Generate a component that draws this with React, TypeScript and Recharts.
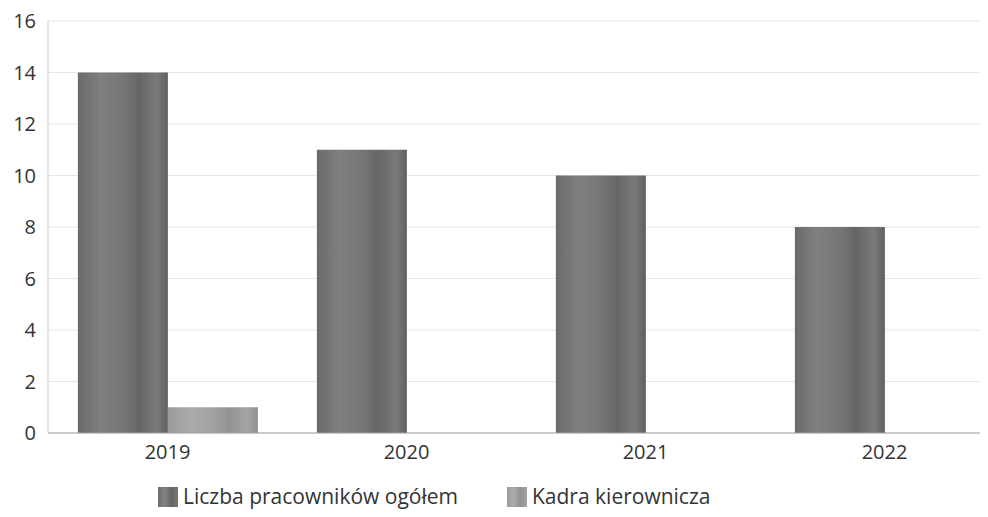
import { BarChart, Bar, XAxis, YAxis, CartesianGrid, Legend } from 'recharts';

const years = ['2019', '2020', '2021', '2022'];
const totalStaff = [14, 11, 10, 8];
const managers = [1, 0, 0, 0];
const yTicks = [0, 2, 4, 6, 8, 10, 12, 14, 16];
const seriesNames = ['Liczba pracowników ogółem', 'Kadra kierownicza'];

const data = years.map((year, i) => ({
  year,
  total: totalStaff[i],
  managers: managers[i],
}));

const FONT = '"Open Sans", "Noto Sans", sans-serif';
const TEXT = '#333333';

function LegendBox() {
  const items = [
    { name: seriesNames[0], bg: 'linear-gradient(90deg,#6c6c6c,#838383,#646464,#767676)' },
    { name: seriesNames[1], bg: 'linear-gradient(90deg,#9c9c9c,#acacac,#929292,#a2a2a2)' },
  ];
  return (
    <div
      style={{
        display: 'flex',
        paddingTop: 20,
        paddingLeft: 150,
        fontFamily: FONT,
        fontSize: 21,
        color: TEXT,
        lineHeight: '27px',
      }}
    >
      {items.map((it, i) => (
        <div key={it.name} style={{ display: 'flex', alignItems: 'center', marginRight: i === 0 ? 49 : 0 }}>
          <span style={{ display: 'inline-block', width: 20, height: 20, background: it.bg, marginRight: 5 }} />
          <span>{it.name}</span>
        </div>
      ))}
    </div>
  );
}

export default function App() {
  return (
    <div style={{ width: 980, height: 509, overflow: 'hidden' }}>
      <BarChart
        width={996}
        height={509}
        data={data}
        margin={{ top: 13, right: 0, bottom: 14, left: 0 }}
        barCategoryGap="12.5%"
        barGap={0}
      >
        <defs>
          <linearGradient id="gradDark" x1="0" y1="0" x2="1" y2="0">
            <stop offset="0" stopColor="#6a6a6a" />
            <stop offset="0.25" stopColor="#808080" />
            <stop offset="0.5" stopColor="#767676" />
            <stop offset="0.68" stopColor="#666666" />
            <stop offset="0.88" stopColor="#7a7a7a" />
            <stop offset="1" stopColor="#606060" />
          </linearGradient>
          <linearGradient id="gradLight" x1="0" y1="0" x2="1" y2="0">
            <stop offset="0" stopColor="#9a9a9a" />
            <stop offset="0.25" stopColor="#ababab" />
            <stop offset="0.5" stopColor="#a2a2a2" />
            <stop offset="0.68" stopColor="#939393" />
            <stop offset="0.88" stopColor="#a4a4a4" />
            <stop offset="1" stopColor="#8e8e8e" />
          </linearGradient>
        </defs>
        <CartesianGrid stroke="#e6e6e6" vertical={false} />
        <XAxis
          dataKey="year"
          axisLine={{ stroke: '#a0a0a0' }}
          tickLine={false}
          tickMargin={6}
          tick={{ fill: TEXT, fontSize: 20, fontFamily: FONT }}
        />
        <YAxis
          width={40}
          domain={[0, 16]}
          ticks={yTicks}
          interval={0}
          axisLine={{ stroke: '#d0d0d0' }}
          tickLine={false}
          tickMargin={6}
          tick={{ fill: TEXT, fontSize: 20, fontFamily: FONT }}
        />
        <Legend verticalAlign="bottom" height={40} content={() => <LegendBox />} />
        <Bar dataKey="total" name={seriesNames[0]} fill="url(#gradDark)" isAnimationActive={false} />
        <Bar dataKey="managers" name={seriesNames[1]} fill="url(#gradLight)" isAnimationActive={false} />
      </BarChart>
    </div>
  );
}
